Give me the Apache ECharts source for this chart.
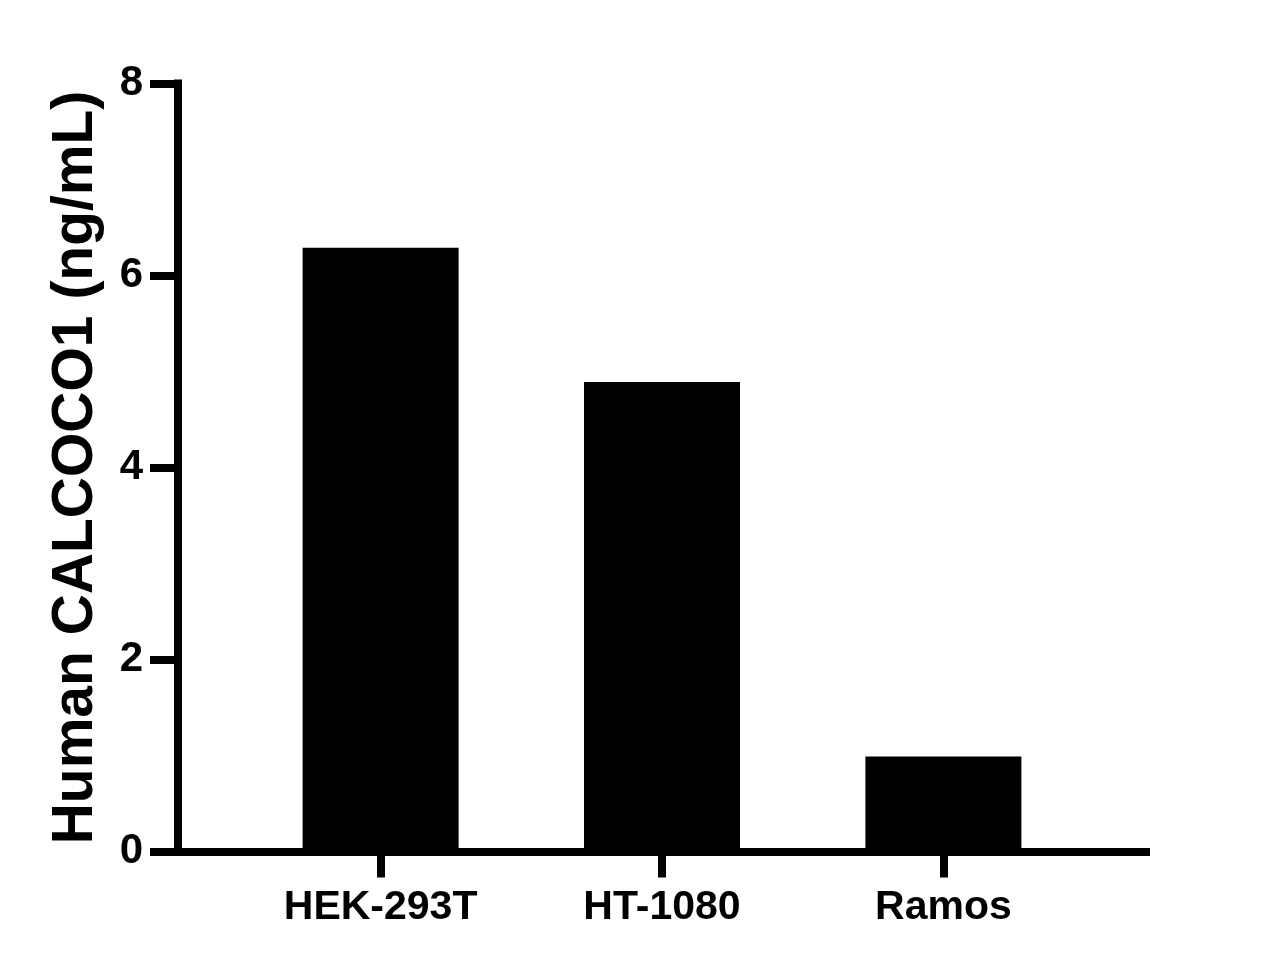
<!DOCTYPE html>
<html>
<head>
<meta charset="utf-8">
<script src="https://cdn.jsdelivr.net/npm/echarts@6/dist/echarts.min.js"></script>
<style>html,body{margin:0;padding:0;background:#fff;}#c{width:1284px;height:972px;}</style>
</head>
<body>
<div id="c"></div>
<script>
const categories = ['HEK-293T', 'HT-1080', 'Ramos'];
const positions = [1, 2, 3];
const values = [6.29, 4.89, 0.99];
const yTicks = [0, 2, 4, 6, 8];
const yTitle = 'Human CALCOCO1 (ng/mL)';

const chart = echarts.init(document.getElementById('c'), null, {renderer: 'canvas'});
const font = 'Liberation Sans, Arial, sans-serif';
chart.setOption({
  animation: false,
  backgroundColor: '#fff',
  grid: {left: 178, right: 138, top: 83.5, bottom: 120.5, containLabel: false},
  xAxis: {
    type: 'value',
    min: 0.28,
    max: 3.72,
    splitLine: {show: false},
    axisLine: {show: true, lineStyle: {color: '#000', width: 8, cap: 'square'}},
    axisTick: {show: true, customValues: positions, length: 26, lineStyle: {color: '#000', width: 8}},
    axisLabel: {
      customValues: positions,
      margin: 36,
      color: '#000',
      fontFamily: font,
      fontWeight: 'bold',
      fontSize: 41,
      formatter: function (v) { return categories[positions.indexOf(Math.round(v))] || ''; }
    }
  },
  yAxis: {
    type: 'value',
    min: 0,
    max: 8,
    interval: 2,
    splitLine: {show: false},
    axisLine: {show: true, lineStyle: {color: '#000', width: 8, cap: 'square'}},
    axisTick: {show: true, length: 28, lineStyle: {color: '#000', width: 8}},
    axisLabel: {
      margin: 35,
      color: '#000',
      fontFamily: font,
      fontWeight: 'bold',
      fontSize: 42,
      formatter: function (v) { return yTicks.indexOf(v) >= 0 ? String(v) : ''; }
    },
    name: yTitle,
    nameLocation: 'middle',
    nameGap: 73,
    nameRotate: 90,
    nameTextStyle: {color: '#000', fontFamily: font, fontWeight: 'bold', fontSize: 57}
  },
  series: [{
    type: 'bar',
    data: positions.map((p, i) => [p, values[i]]),
    barWidth: 156,
    itemStyle: {color: '#000'},
    z: 1
  }]
});
</script>
</body>
</html>
